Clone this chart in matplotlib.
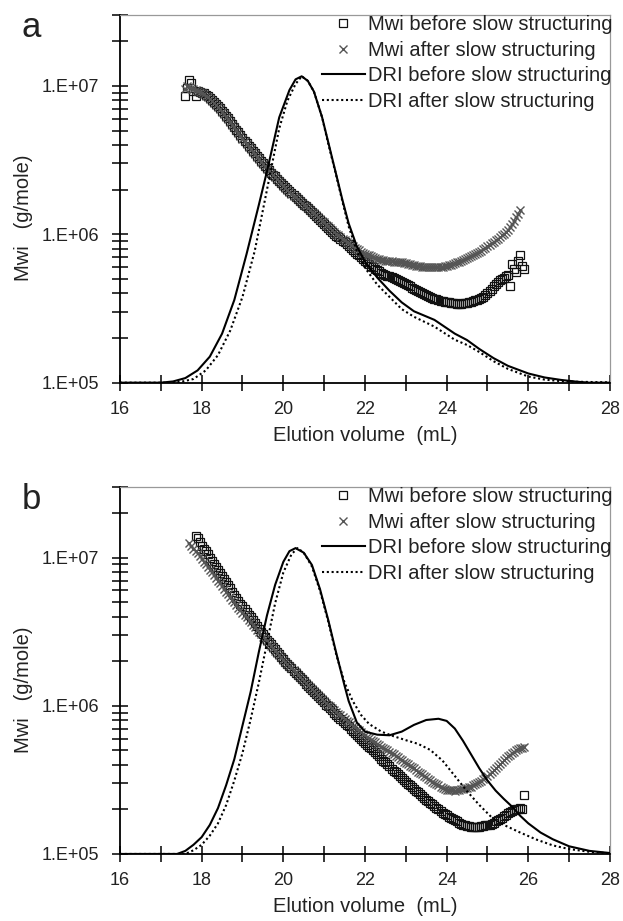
import numpy as np
import matplotlib
matplotlib.use('Agg')
import matplotlib.pyplot as plt
from matplotlib.ticker import LogLocator, NullFormatter, FixedLocator
from matplotlib.lines import Line2D

plt.rcParams['font.family'] = ['Liberation Sans', 'DejaVu Sans']

# ---------------- data ----------------
STEP = 0.05  # elution-volume slice width of the Mwi data (mL)

# Panel a : Mwi (g/mole), slices starting at 17.60 mL
a_sq_start = 17.60
a_sq = [8.5e6, 9.6e6, 1.1e7, 1.05e7, 9.2e6, 8.6e6, 9.3e6, 9.1e6, 9.0e6, 8.9e6,
        8.7e6, 8.5e6, 8.3e6, 8.05e6, 7.8e6, 7.55e6, 7.3e6, 7.05e6, 6.8e6, 6.55e6,
        6.3e6, 6.05e6, 5.8e6, 5.55e6, 5.3e6, 5.05e6, 4.85e6, 4.65e6, 4.45e6, 4.27e6,
        4.1e6, 3.95e6, 3.8e6, 3.65e6, 3.5e6, 3.37e6, 3.25e6, 3.12e6, 3.0e6, 2.9e6,
        2.8e6, 2.7e6, 2.6e6, 2.52e6, 2.45e6, 2.37e6, 2.3e6, 2.22e6, 2.15e6, 2.08e6,
        2.02e6, 1.96e6, 1.9e6, 1.84e6, 1.78e6, 1.73e6, 1.68e6, 1.63e6, 1.58e6, 1.54e6,
        1.5e6, 1.45e6, 1.41e6, 1.36e6, 1.32e6, 1.28e6, 1.24e6, 1.2e6, 1.17e6, 1.13e6,
        1.1e6, 1.07e6, 1.04e6, 1.01e6, 9.8e5, 9.55e5, 9.3e5, 9.05e5, 8.8e5, 8.55e5,
        8.3e5, 8.07e5, 7.85e5, 7.6e5, 7.4e5, 7.2e5, 7.0e5, 6.82e5, 6.65e5, 6.47e5,
        6.3e5, 6.15e5, 6.0e5, 5.87e5, 5.75e5, 5.62e5, 5.5e5, 5.4e5, 5.3e5, 5.25e5,
        5.2e5, 5.12e5, 5.05e5, 4.97e5, 4.9e5, 4.82e5, 4.75e5, 4.67e5, 4.6e5, 4.52e5,
        4.45e5, 4.37e5, 4.3e5, 4.22e5, 4.15e5, 4.07e5, 4.0e5, 3.95e5, 3.9e5, 3.82e5,
        3.75e5, 3.71e5, 3.68e5, 3.64e5, 3.6e5, 3.57e5, 3.55e5, 3.52e5, 3.5e5, 3.47e5,
        3.45e5, 3.43e5, 3.42e5, 3.41e5, 3.4e5, 3.41e5, 3.42e5, 3.43e5, 3.45e5, 3.47e5,
        3.5e5, 3.55e5, 3.6e5, 3.62e5, 3.65e5, 3.72e5, 3.8e5, 3.9e5, 4.0e5, 4.15e5,
        4.3e5, 4.45e5, 4.6e5, 4.75e5, 4.9e5, 5.0e5, 5.1e5, 5.2e5, 5.3e5, 4.5e5,
        6.3e5, 5.8e5, 5.6e5, 6.6e5, 7.3e5, 6.1e5, 5.8e5]
a_x_start = 17.60
a_x = [9.5e6, 1.0e7, 9.8e6, 9.6e6, 9.5e6, 9.4e6, 9.3e6, 9.15e6, 9.0e6, 8.8e6,
       8.6e6, 8.4e6, 8.2e6, 7.95e6, 7.7e6, 7.45e6, 7.2e6, 6.95e6, 6.7e6, 6.45e6,
       6.2e6, 5.95e6, 5.7e6, 5.47e6, 5.25e6, 5.02e6, 4.8e6, 4.6e6, 4.4e6, 4.22e6,
       4.05e6, 3.9e6, 3.75e6, 3.6e6, 3.45e6, 3.32e6, 3.2e6, 3.08e6, 2.97e6, 2.87e6,
       2.77e6, 2.67e6, 2.58e6, 2.5e6, 2.42e6, 2.34e6, 2.27e6, 2.2e6, 2.13e6, 2.06e6,
       2.0e6, 1.94e6, 1.88e6, 1.82e6, 1.77e6, 1.72e6, 1.67e6, 1.62e6, 1.58e6, 1.54e6,
       1.5e6, 1.46e6, 1.42e6, 1.38e6, 1.34e6, 1.3e6, 1.27e6, 1.23e6, 1.2e6, 1.16e6,
       1.13e6, 1.1e6, 1.07e6, 1.04e6, 1.01e6, 9.85e5, 9.6e5, 9.35e5, 9.1e5, 8.9e5,
       8.7e5, 8.5e5, 8.3e5, 8.12e5, 7.95e5, 7.8e5, 7.65e5, 7.52e5, 7.4e5, 7.3e5,
       7.2e5, 7.1e5, 7.0e5, 6.92e5, 6.85e5, 6.8e5, 6.75e5, 6.7e5, 6.65e5, 6.62e5,
       6.6e5, 6.57e5, 6.55e5, 6.52e5, 6.5e5, 6.5e5, 6.5e5, 6.45e5, 6.4e5, 6.35e5,
       6.3e5, 6.25e5, 6.2e5, 6.15e5, 6.1e5, 6.07e5, 6.05e5, 6.02e5, 6.0e5, 6.0e5,
       6.0e5, 6.0e5, 6.0e5, 6.0e5, 6.0e5, 6.02e5, 6.05e5, 6.1e5, 6.15e5, 6.2e5,
       6.25e5, 6.32e5, 6.4e5, 6.47e5, 6.55e5, 6.62e5, 6.7e5, 6.8e5, 6.9e5, 7.0e5,
       7.1e5, 7.25e5, 7.4e5, 7.5e5, 7.6e5, 7.75e5, 7.9e5, 8.1e5, 8.3e5, 8.5e5,
       8.7e5, 8.9e5, 9.1e5, 9.35e5, 9.6e5, 9.85e5, 1.01e6, 1.04e6, 1.07e6, 1.12e6,
       1.17e6, 1.23e6, 1.3e6, 1.37e6, 1.45e6]
# Panel a : DRI signal (normalised to peak = 1)
a_dri_b_x = [16.0, 17.0, 17.3, 17.6, 17.9, 18.2, 18.5, 18.8, 19.1, 19.4, 19.6, 19.9,
             20.15, 20.3, 20.45, 20.6, 20.75, 20.95, 21.1, 21.27, 21.45, 21.6, 21.8,
             22.0, 22.3, 22.6, 22.9, 23.2, 23.7, 24.2, 24.5, 24.8, 25.15, 25.5, 26.0,
             26.4, 26.8, 27.2, 27.5, 28.0]
a_dri_b = [0, 0, 0.004, 0.015, 0.04, 0.085, 0.16, 0.27, 0.42, 0.58, 0.69, 0.866,
           0.955, 0.99, 1.0, 0.985, 0.95, 0.866, 0.785, 0.693, 0.595, 0.52, 0.445,
           0.395, 0.343, 0.3, 0.262, 0.233, 0.205, 0.16, 0.139, 0.11, 0.08, 0.055, 0.03,
           0.017, 0.009, 0.003, 0.0, 0.0]
a_dri_a_x = [16.0, 17.2, 17.5, 17.8, 18.1, 18.4, 18.7, 19.0, 19.3, 19.6, 19.9, 20.1,
             20.3, 20.45, 20.6, 20.75, 20.95, 21.1, 21.27, 21.45, 21.6, 21.8, 22.0,
             22.3, 22.6, 22.9, 23.2, 23.7, 24.2, 24.5, 24.8, 25.15, 25.5, 26.0, 26.4,
             26.8, 27.2, 27.6, 28.0]
a_dri_a = [0, 0, 0.003, 0.012, 0.04, 0.09, 0.17, 0.28, 0.43, 0.63, 0.83, 0.92,
           0.975, 1.0, 0.985, 0.95, 0.866, 0.78, 0.69, 0.59, 0.51, 0.43, 0.375,
           0.32, 0.28, 0.24, 0.215, 0.183, 0.14, 0.123, 0.1, 0.07, 0.045, 0.02, 0.01,
           0.005, 0.003, 0.002, 0.001]

# Panel b : Mwi (g/mole)
b_sq_start = 17.85
b_sq = [1.4e7, 1.35e7, 1.27e7, 1.2e7, 1.15e7, 1.1e7, 1.05e7, 1.0e7, 9.5e6, 9.1e6,
        8.7e6, 8.3e6, 7.9e6, 7.5e6, 7.15e6, 6.8e6, 6.5e6, 6.2e6, 5.9e6, 5.6e6,
        5.35e6, 5.1e6, 4.9e6, 4.7e6, 4.5e6, 4.3e6, 4.12e6, 3.95e6, 3.77e6, 3.6e6,
        3.45e6, 3.3e6, 3.17e6, 3.05e6, 2.92e6, 2.8e6, 2.7e6, 2.6e6, 2.5e6, 2.4e6,
        2.31e6, 2.22e6, 2.14e6, 2.06e6, 1.99e6, 1.92e6, 1.85e6, 1.79e6, 1.73e6, 1.67e6,
        1.61e6, 1.56e6, 1.51e6, 1.46e6, 1.41e6, 1.37e6, 1.32e6, 1.28e6, 1.24e6, 1.2e6,
        1.16e6, 1.13e6, 1.09e6, 1.06e6, 1.02e6, 9.9e5, 9.6e5, 9.3e5, 9.0e5, 8.7e5,
        8.45e5, 8.2e5, 7.95e5, 7.7e5, 7.47e5, 7.25e5, 7.02e5, 6.8e5, 6.6e5, 6.4e5,
        6.2e5, 6.0e5, 5.82e5, 5.65e5, 5.47e5, 5.3e5, 5.15e5, 5.0e5, 4.85e5, 4.7e5,
        4.55e5, 4.4e5, 4.27e5, 4.15e5, 4.02e5, 3.9e5, 3.77e5, 3.65e5, 3.55e5, 3.45e5,
        3.35e5, 3.25e5, 3.15e5, 3.05e5, 2.97e5, 2.9e5, 2.82e5, 2.75e5, 2.67e5, 2.6e5,
        2.52e5, 2.45e5, 2.39e5, 2.33e5, 2.27e5, 2.22e5, 2.16e5, 2.1e5, 2.05e5, 2.0e5,
        1.95e5, 1.9e5, 1.86e5, 1.82e5, 1.78e5, 1.75e5, 1.72e5, 1.69e5, 1.66e5, 1.63e5,
        1.6e5, 1.58e5, 1.56e5, 1.55e5, 1.54e5, 1.53e5, 1.52e5, 1.52e5, 1.52e5, 1.53e5,
        1.54e5, 1.55e5, 1.56e5, 1.57e5, 1.58e5, 1.6e5, 1.63e5, 1.66e5, 1.69e5, 1.72e5,
        1.76e5, 1.8e5, 1.84e5, 1.88e5, 1.92e5, 1.95e5, 1.98e5, 2.0e5, 2.02e5, 2.05e5,
        2.0e5, 2.5e5]
b_x_start = 17.70
b_x = [1.25e7, 1.2e7, 1.15e7, 1.11e7, 1.07e7, 1.02e7, 9.8e6, 9.4e6, 9.0e6, 8.65e6,
       8.3e6, 7.95e6, 7.6e6, 7.3e6, 7.0e6, 6.7e6, 6.4e6, 6.15e6, 5.9e6, 5.65e6,
       5.4e6, 5.2e6, 5.0e6, 4.8e6, 4.6e6, 4.42e6, 4.25e6, 4.1e6, 3.95e6, 3.8e6,
       3.65e6, 3.52e6, 3.4e6, 3.27e6, 3.15e6, 3.04e6, 2.93e6, 2.82e6, 2.72e6, 2.62e6,
       2.53e6, 2.44e6, 2.36e6, 2.28e6, 2.2e6, 2.12e6, 2.05e6, 1.98e6, 1.92e6, 1.86e6,
       1.8e6, 1.74e6, 1.68e6, 1.62e6, 1.57e6, 1.52e6, 1.47e6, 1.42e6, 1.38e6, 1.34e6,
       1.3e6, 1.26e6, 1.22e6, 1.18e6, 1.15e6, 1.11e6, 1.08e6, 1.05e6, 1.02e6, 9.9e5,
       9.6e5, 9.35e5, 9.1e5, 8.85e5, 8.6e5, 8.37e5, 8.15e5, 7.95e5, 7.75e5, 7.55e5,
       7.35e5, 7.17e5, 7.0e5, 6.82e5, 6.65e5, 6.5e5, 6.35e5, 6.2e5, 6.05e5, 5.92e5,
       5.8e5, 5.67e5, 5.55e5, 5.42e5, 5.3e5, 5.2e5, 5.1e5, 5.0e5, 4.9e5, 4.8e5,
       4.7e5, 4.6e5, 4.5e5, 4.4e5, 4.3e5, 4.2e5, 4.1e5, 4.02e5, 3.95e5, 3.87e5,
       3.8e5, 3.7e5, 3.6e5, 3.52e5, 3.45e5, 3.37e5, 3.3e5, 3.22e5, 3.15e5, 3.07e5,
       3.0e5, 2.95e5, 2.9e5, 2.85e5, 2.8e5, 2.76e5, 2.72e5, 2.71e5, 2.7e5, 2.69e5,
       2.68e5, 2.7e5, 2.72e5, 2.73e5, 2.75e5, 2.77e5, 2.8e5, 2.82e5, 2.85e5, 2.9e5,
       2.95e5, 3.0e5, 3.05e5, 3.12e5, 3.2e5, 3.27e5, 3.35e5, 3.45e5, 3.55e5, 3.67e5,
       3.8e5, 3.92e5, 4.05e5, 4.17e5, 4.3e5, 4.42e5, 4.55e5, 4.67e5, 4.8e5, 4.9e5,
       5.0e5, 5.07e5, 5.15e5, 5.22e5, 5.3e5]
# Panel b : DRI signal (normalised to peak = 1)
b_dri_b_x = [16.0, 17.4, 17.6, 17.8, 18.0, 18.2, 18.4, 18.6, 18.8, 19.0, 19.2, 19.4,
             19.6, 19.8, 20.0, 20.15, 20.3, 20.5, 20.7, 20.9, 21.1, 21.3, 21.5, 21.6,
             21.8, 22.0, 22.3, 22.6, 22.9, 23.2, 23.5, 23.8, 24.0, 24.2, 24.4, 24.6,
             24.8, 25.0, 25.2, 25.4, 25.6, 25.8, 26.0, 26.3, 26.6, 27.0, 27.5, 28.0]
b_dri_b = [0, 0, 0.01, 0.03, 0.055, 0.095, 0.15, 0.225, 0.31, 0.42, 0.53, 0.66,
           0.78, 0.88, 0.955, 0.99, 1.0, 0.985, 0.945, 0.865, 0.765, 0.655, 0.55, 0.5,
           0.43, 0.4, 0.39, 0.388, 0.4, 0.422, 0.438, 0.442, 0.435, 0.41, 0.37, 0.325,
           0.28, 0.24, 0.207, 0.18, 0.155, 0.125, 0.1, 0.07, 0.048, 0.025, 0.01, 0.003]
b_dri_a_x = [16.0, 17.6, 17.8, 18.0, 18.2, 18.4, 18.6, 18.8, 19.0, 19.2, 19.4, 19.6,
             19.8, 20.0, 20.2, 20.35, 20.5, 20.7, 20.9, 21.1, 21.3, 21.5, 21.7, 21.9,
             22.1, 22.4, 22.7, 23.0, 23.3, 23.6, 23.9, 24.2, 24.5, 24.8, 25.1, 25.4,
             25.8, 26.2, 26.6, 27.0, 27.5, 28.0]
b_dri_a = [0, 0, 0.012, 0.03, 0.06, 0.1, 0.16, 0.24, 0.33, 0.44, 0.56, 0.69,
           0.82, 0.92, 0.98, 1.0, 0.985, 0.94, 0.86, 0.76, 0.65, 0.56, 0.5, 0.455,
           0.425, 0.4, 0.385, 0.372, 0.36, 0.34, 0.305, 0.255, 0.205, 0.16, 0.12, 0.095,
           0.07, 0.047, 0.028, 0.016, 0.007, 0.002]

legend_labels = ['Mwi before slow structuring', 'Mwi after slow structuring',
                 'DRI before slow structuring', 'DRI after slow structuring']
ytick_vals = [1e5, 1e6, 1e7]
ytick_labels = ['1.E+05', '1.E+06', '1.E+07']
xtick_vals = [16, 18, 20, 22, 24, 26, 28]


def slices(start, values):
    return np.round(start + STEP * np.arange(len(values)), 3)


# ---------------- style ----------------
TXT = '#222222'
SQ = dict(ls='none', marker='s', ms=6.0, mfc='none', mec='#111111', mew=0.9)
XX = dict(ls='none', marker='x', ms=6.0, mec='#555555', mew=1.0)
SOLID = dict(color='black', lw=1.5)
DOT = dict(color='black', lw=1.5, ls=(0, (1, 1.3)))

fig = plt.figure(figsize=(6.23, 9.21), dpi=100)


def panel(rect, letter, letter_y, sq_start, sqy, x_start, xxy, dbx, dby, dax, day):
    ax = fig.add_axes(rect)
    ax.set_yscale('log')
    ax.set_xlim(16, 28)
    ax.set_ylim(1e5, 3e7)
    ax.plot(slices(sq_start, sqy), sqy, **SQ)
    ax.plot(slices(x_start, xxy), xxy, **XX)

    ax.set_yticks(ytick_vals, labels=ytick_labels)
    ax.yaxis.set_minor_locator(LogLocator(base=10, subs=np.arange(2, 10)))
    ax.yaxis.set_minor_formatter(NullFormatter())
    ax.set_xticks(xtick_vals, labels=[str(v) for v in xtick_vals])
    ax.xaxis.set_minor_locator(FixedLocator([17, 19, 21, 23, 25, 27]))
    ax.tick_params(axis='y', which='both', direction='inout', length=11, width=1.1,
                   pad=9.5, labelsize=13, labelcolor=TXT)
    ax.tick_params(axis='x', which='both', direction='inout', length=11, width=1.1,
                   pad=7.5, labelsize=13, labelcolor=TXT)
    for s in ('left', 'bottom'):
        ax.spines[s].set_linewidth(1.3)
        ax.spines[s].set_color('black')
    for s in ('top', 'right'):
        ax.spines[s].set_linewidth(0.9)
        ax.spines[s].set_color('#999999')

    ax.set_xlabel('Elution volume  (mL)', fontsize=14.5, color=TXT)
    ax.xaxis.set_label_coords(0.5, -0.118)
    ax.set_ylabel('Mwi   (g/mole)', fontsize=14.5, color=TXT)
    ax.yaxis.set_label_coords(-0.178, 0.448)

    ax2 = ax.twinx()
    ax2.set_ylim(0, 1.2)
    ax2.plot(dbx, dby, **SOLID)
    ax2.plot(dax, day, **DOT)
    ax2.set_yticks([])
    for s in ax2.spines.values():
        s.set_visible(False)

    handles = [Line2D([], [], **SQ), Line2D([], [], **XX),
               Line2D([], [], **SOLID), Line2D([], [], **DOT)]
    leg = ax2.legend(handles, legend_labels, loc='upper right',
                     bbox_to_anchor=(1.005, 1.0), frameon=False, fontsize=14.5,
                     handlelength=2.15, handletextpad=0.15, labelspacing=0.33,
                     borderaxespad=0.0, borderpad=0.0)
    for t in leg.get_texts():
        t.set_color(TXT)

    fig.text(0.035, letter_y, letter, fontsize=25, color=TXT, va='baseline')
    return ax


panel([0.1926, 0.5845, 0.7865, 0.3992], 'a', 0.96,
      a_sq_start, a_sq, a_x_start, a_x, a_dri_b_x, a_dri_b, a_dri_a_x, a_dri_a)
panel([0.1926, 0.0728, 0.7865, 0.3985], 'b', 0.447,
      b_sq_start, b_sq, b_x_start, b_x, b_dri_b_x, b_dri_b, b_dri_a_x, b_dri_a)

fig.savefig('out.png', dpi=100)
